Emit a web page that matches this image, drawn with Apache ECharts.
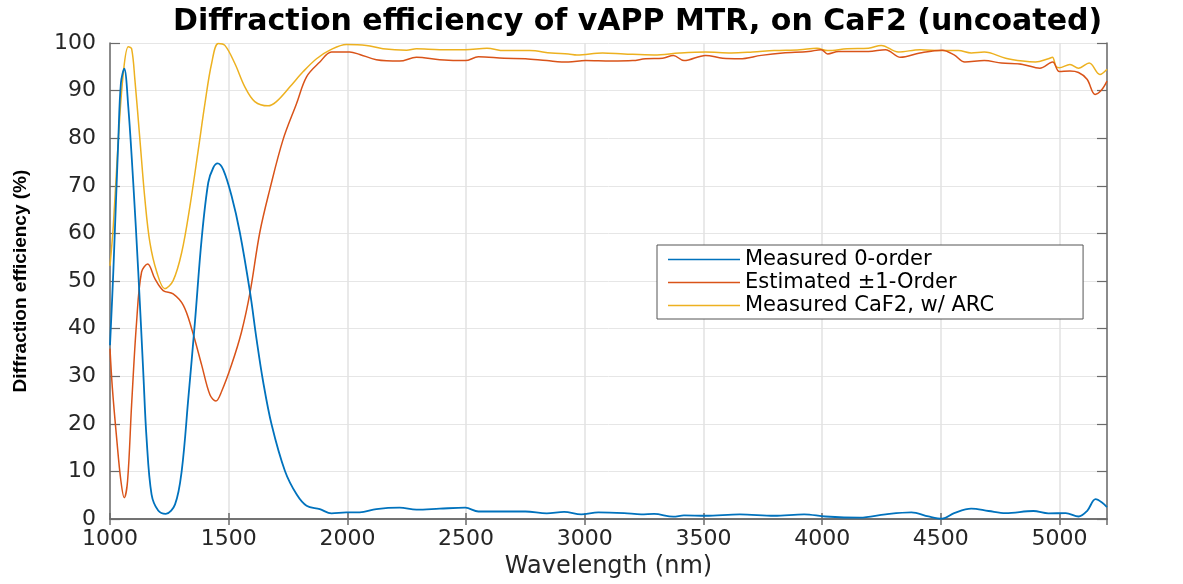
<!DOCTYPE html>
<html><head><meta charset="utf-8">
<script src="https://cdn.jsdelivr.net/npm/echarts@6/dist/echarts.min.js"></script>
<style>html,body{margin:0;padding:0;background:#fff}#c{width:1183px;height:584px}</style>
</head><body><div id="c"></div>
<script>
const titleText = 'Diffraction efficiency of vAPP MTR, on CaF2 (uncoated)';
const xName = 'Wavelength (nm)';
const yName = 'Diffraction efficiency (%)';
const seriesNames = ['Measured 0-order', 'Estimated \u00b11-Order', 'Measured CaF2, w/ ARC'];

const blueWl = [1000,1014,1035,1046,1060,1077,1098,1119,1140,1154,1175,1203,1235,1274,1302,1330,1358,1386,1414,1435,1453,1477,1512,1547,1590,1617,1645,1681,1737,1786,1828,1884,1933,1996,2052,2122,2220,2291,2389,2497,2552,2750,2840,2913,2985,3057,3166,3238,3292,3373,3418,3509,3653,3798,3924,4014,4159,4267,4376,4448,4506,4556,4628,4701,4773,4890,4953,5026,5080,5116,5152,5179,5200];
const blueVal = [36.5,52,79.7,91.6,94.6,86.6,70.6,52,31,17,5.2,1.8,1.1,3.1,10.1,25.4,41.5,58.8,70.7,73.8,74.7,73.4,67.9,60.2,47.6,37.9,28.9,19.8,10.1,5.2,2.8,2.1,1.2,1.4,1.4,2.1,2.4,2.0,2.2,2.4,1.6,1.6,1.2,1.5,1.0,1.4,1.25,1.0,1.1,0.5,0.8,0.7,1.0,0.7,1.0,0.55,0.3,1.0,1.4,0.55,0.1,1.25,2.2,1.7,1.25,1.7,1.2,1.25,0.55,1.7,4.2,3.5,2.5];

const redWl = [1000,1010,1028,1046,1060,1074,1091,1112,1133,1159,1189,1224,1266,1309,1344,1386,1421,1446,1470,1512,1554,1590,1631,1673,1729,1786,1828,1884,1933,2010,2052,2122,2220,2291,2389,2497,2552,2660,2750,2840,2931,3003,3111,3202,3256,3328,3373,3418,3509,3581,3653,3743,3834,3942,3996,4023,4069,4195,4267,4330,4412,4506,4556,4601,4683,4755,4845,4917,4971,4999,5044,5080,5116,5150,5175,5200];
const redVal = [35.8,27.5,17,8.0,4.5,8.0,24,41.4,51.9,53.6,50.5,48,47.3,44.9,40,32.4,26.1,24.8,26.8,32.4,39.3,47.6,60.2,69.2,79.7,87.3,92.9,96,98.1,98.1,97.6,96.5,96.2,97.0,96.5,96.3,97.1,96.8,96.7,96.3,96.0,96.3,96.2,96.3,96.7,96.8,97.4,96.3,97.4,96.8,96.7,97.4,97.9,98.2,98.6,97.7,98.2,98.2,98.6,97.0,97.9,98.5,97.5,96.0,96.3,95.8,95.5,94.7,96.0,94.0,94.1,93.8,92.4,89.2,90.0,92.0];

const yellowWl = [1000,1014,1035,1056,1077,1091,1105,1126,1147,1168,1197,1231,1266,1302,1337,1372,1400,1428,1456,1484,1526,1568,1610,1666,1701,1758,1814,1870,1926,1996,2080,2150,2249,2291,2389,2497,2588,2660,2768,2859,2931,2967,3075,3166,3292,3400,3509,3617,3707,3798,3906,3978,4023,4105,4195,4249,4321,4412,4506,4574,4628,4683,4773,4845,4899,4953,4970,4985,4999,5044,5080,5125,5170,5200];
const yellowVal = [53.2,61.6,79.7,93.6,99.2,98.8,92.2,79.7,67.2,58.1,51.9,48.4,50.1,56,65.8,77.6,87.3,95.7,99.9,99.5,95.7,90.8,87.7,86.8,87.7,90.8,94,96.7,98.5,99.7,99.5,98.8,98.5,98.8,98.6,98.6,98.9,98.4,98.4,97.9,97.7,97.5,97.9,97.7,97.5,97.9,98.1,97.9,98.1,98.4,98.6,98.9,98.4,98.8,98.9,99.5,98.1,98.6,98.4,98.4,97.9,98.1,96.8,96.2,96.0,96.7,97.0,95.1,94.8,95.5,94.7,95.8,93.4,94.5];

const xMin = 1000, xMax = 5200, xStep = 500;
const yMin = 0, yMax = 100, yStep = 10;

const zip = (a, b) => a.map((v, i) => [v, b[i]]);
const colors = ['#0072BD', '#D95319', '#EDB120'];
const widths = [1.8, 1.5, 1.5];
const dataSets = [zip(blueWl, blueVal), zip(redWl, redVal), zip(yellowWl, yellowVal)];

const axisGray = '#6b6b6b';
const labelFont = {fontFamily: 'DejaVu Sans', fontSize: 22, color: '#262626', formatter: v => String(v)};

const chart = echarts.init(document.getElementById('c'));
chart.setOption({
  animation: false,
  backgroundColor: '#fff',
  title: {
    text: titleText, left: 168, top: 2,
    textStyle: {fontFamily: 'DejaVu Sans', fontWeight: 'bold', fontSize: 30, color: '#000'}
  },
  grid: {left: 110, right: 76, top: 43, bottom: 62, containLabel: false},
  legend: {
    orient: 'vertical', left: 657, top: 245,
    data: seriesNames.map((n, i) => ({name: n, icon: 'rect', itemStyle: {color: colors[i]}})),
    itemWidth: 72, itemHeight: 1.5, itemGap: 2,
    padding: [4, 89, 3, 11],
    borderColor: '#555', borderWidth: 1, backgroundColor: '#fff',
    textStyle: {fontFamily: 'DejaVu Sans', fontSize: 21, lineHeight: 21, color: '#000'}
  },
  xAxis: [{
    type: 'value', min: xMin, max: xMax, interval: xStep,
    name: xName, nameLocation: 'middle', nameGap: 32,
    nameTextStyle: {fontFamily: 'DejaVu Sans', fontSize: 24, color: '#262626'},
    axisLine: {show: true, lineStyle: {color: axisGray, width: 1.5}},
    axisTick: {show: true, inside: true, length: 6, lineStyle: {color: axisGray, width: 1.5}},
    axisLabel: Object.assign({margin: 9, showMaxLabel: false}, labelFont),
    splitLine: {show: true, lineStyle: {color: '#e2e2e2', width: 1.5}}
  }, {
    type: 'value', min: xMin, max: xMax, interval: xStep, position: 'top',
    axisLine: {show: true, lineStyle: {color: axisGray, width: 1.5}},
    axisTick: {show: true, inside: true, length: 6, lineStyle: {color: axisGray, width: 1.5}},
    axisLabel: {show: false}, splitLine: {show: false}
  }],
  yAxis: [{
    type: 'value', min: yMin, max: yMax, interval: yStep,
    name: yName, nameLocation: 'middle', nameGap: 80, nameRotate: 90,
    nameTextStyle: {fontFamily: 'Liberation Sans', fontWeight: 'bold', fontSize: 19, color: '#000'},
    axisLine: {show: true, lineStyle: {color: axisGray, width: 1.5}},
    axisTick: {show: true, inside: true, length: 10, lineStyle: {color: axisGray, width: 1.2}},
    axisLabel: Object.assign({margin: 14}, labelFont),
    splitLine: {show: true, lineStyle: {color: '#e6e6e6', width: 1}}
  }, {
    type: 'value', min: yMin, max: yMax, interval: yStep, position: 'right',
    axisLine: {show: true, lineStyle: {color: axisGray, width: 1.5}},
    axisTick: {show: true, inside: true, length: 10, lineStyle: {color: axisGray, width: 1.2}},
    axisLabel: {show: false}, splitLine: {show: false}
  }],
  series: seriesNames.map((n, i) => ({
    name: n, type: 'line', xAxisIndex: 0, yAxisIndex: 0,
    data: dataSets[i], showSymbol: false, symbol: 'none',
    smooth: 0.35,
    color: colors[i],
    lineStyle: {color: colors[i], width: widths[i]},
    z: 3 - i
  }))
});
</script></body></html>
